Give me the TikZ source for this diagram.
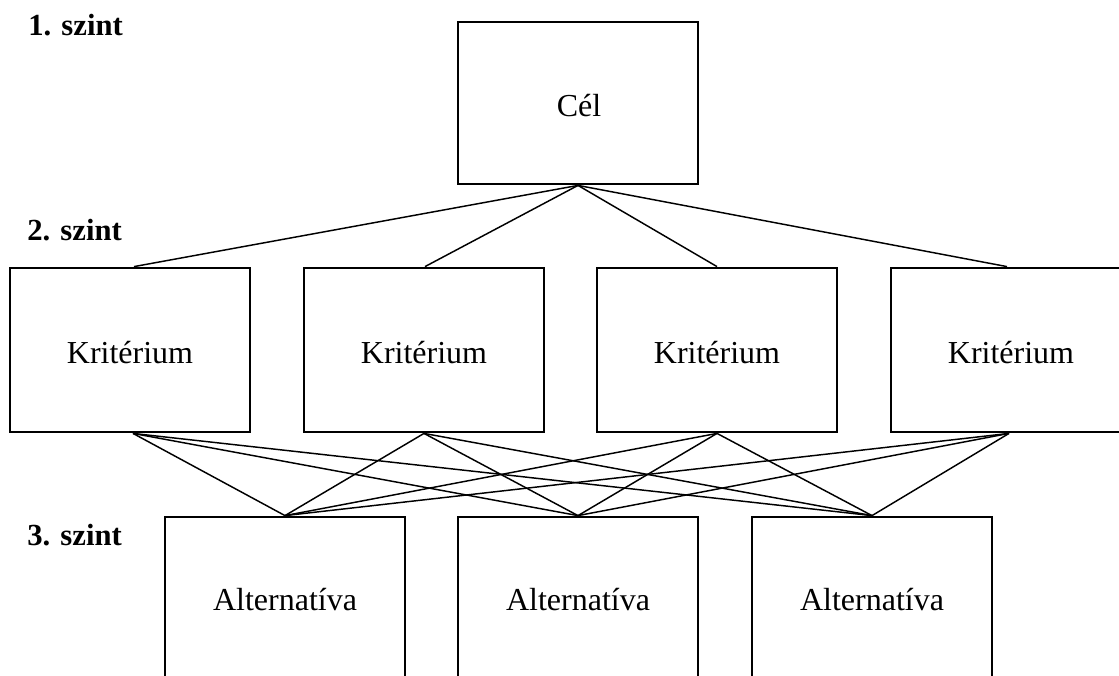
\documentclass[tikz,border=0pt]{standalone}
\usepackage{fontspec}
\setmainfont{Liberation Serif}
\begin{document}
\begin{tikzpicture}[x=0.75pt,y=-0.75pt,
  boxnode/.style={draw=black,line width=2.1pt,minimum width=180pt,minimum height=123pt,inner sep=0pt},
  boxtext/.style={anchor=base,inner sep=0pt,font=\fontsize{24}{28}\selectfont},
  levellabel/.style={anchor=base west,inner sep=0pt,font=\fontsize{23}{27}\selectfont\bfseries},
  conn/.style={line width=1.1pt,black}]
\useasboundingbox (0,0) rectangle (1119,675);
\clip (0,0) rectangle (1119,675);
\node[boxnode,minimum height=121.5pt] (cel) at (578,103) {};
\node[boxnode] (k1) at (130,350) {};
\node[boxnode] (k2) at (424,350) {};
\node[boxnode] (k3) at (717,350) {};
\node[boxnode] (k4) at (1011,350) {};
\node[boxnode] (a1) at (285,599) {};
\node[boxnode] (a2) at (578,599) {};
\node[boxnode] (a3) at (872,599) {};
\node[boxtext] (tc) at (579,116) {Cél};
\node[boxtext] (tk1) at (130,363) {Kritérium};
\node[boxtext] (tk2) at (424,363) {Kritérium};
\node[boxtext] (tk3) at (717,363) {Kritérium};
\node[boxtext] (tk4) at (1011,363) {Kritérium};
\node[boxtext] (ta1) at (285,610) {Alternatíva};
\node[boxtext] (ta2) at (578,610) {Alternatíva};
\node[boxtext] (ta3) at (872,610) {Alternatíva};
\node[levellabel] (l1) at (28,35) {1. szint};
\node[levellabel] (l2) at (27,240) {2. szint};
\node[levellabel] (l3) at (27,545) {3. szint};
\foreach \k/\s in {k1/4,k2/1,k3/0,k4/-4} {
  \draw[conn] (cel.south) -- ([xshift=\s*0.75pt]\k.north);
}
\foreach \k/\s in {k1/3,k2/0,k3/0,k4/-2} {
  \foreach \a in {a1,a2,a3} {
    \draw[conn] ([xshift=\s*0.75pt]\k.south) -- (\a.north);
  }
}
\end{tikzpicture}
\end{document}
